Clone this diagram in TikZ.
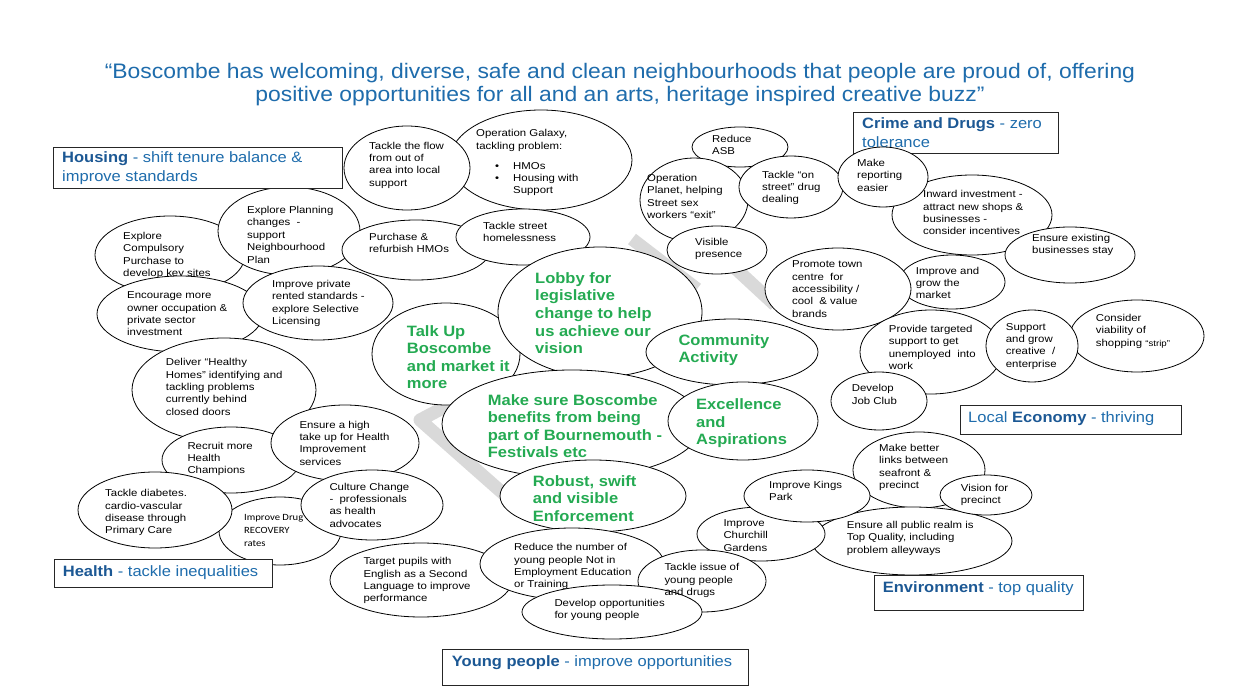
\documentclass[tikz,border=0pt]{standalone}
\usepackage{fontspec}
\setmainfont{Liberation Sans}
\newfontfamily\bodyfnt[FakeStretch=1.14]{Liberation Sans}
\newfontfamily\headfnt[FakeStretch=1.1]{Liberation Sans}
\newfontfamily\titlefnt[FakeStretch=1.09]{Liberation Sans}
\newfontfamily\calfnt[FakeStretch=1.12]{Carlito}
\usetikzlibrary{shapes.geometric}
\definecolor{titleblue}{RGB}{30,108,172}
\definecolor{bdark}{RGB}{28,88,148}
\definecolor{grn}{RGB}{36,170,82}
\definecolor{chev}{RGB}{217,217,217}
\tikzset{
  ell/.style={draw=black, line width=0.8pt, fill=white, ellipse, inner sep=0pt},
  txt/.style={anchor=north west, align=left, inner sep=0pt, font={\bodyfnt\fontsize{10}{12.4}\selectfont}},
  gtxt/.style={anchor=north west, align=left, inner sep=0pt, text=grn, font={\headfnt\fontsize{15}{17.6}\selectfont\bfseries}},
  hbox/.style={draw=black!85, line width=0.9pt, fill=white, anchor=north west, inner sep=0pt},
  htxt/.style={anchor=north west, align=left, inner sep=0pt, text=titleblue, font={\headfnt\fontsize{15}{18.3}\selectfont}},
  chevline/.style={draw=chev, line width=13pt, line join=round}
}
\newcommand\ellnode[5]{\node[ell, minimum width={2*#4}, minimum height={2*#5}] (#1) at (#2,#3) {};}
\newcommand\bub[8]{\ellnode{#1}{#2}{#3}{#4}{#5}\node[txt] (#1t) at (#6,#7) {#8};}
\newcommand\gbub[8]{\ellnode{#1}{#2}{#3}{#4}{#5}\node[gtxt] (#1t) at (#6,#7) {#8};}
\newcommand\hb[1]{{\bfseries\color{bdark}#1}}
\begin{document}
\begin{tikzpicture}[x=1pt,y=-1pt]
\fill[white] (0,0) rectangle (1240,700);
\useasboundingbox (0,0) rectangle (1240,700);

% title
\node[anchor=north, align=center, inner sep=0pt, text=titleblue, font={\titlefnt\fontsize{21}{23.5}\selectfont}] (title) at (620,63)
 {“Boscombe has welcoming, diverse, safe and clean neighbourhoods that people are proud of, offering\\positive opportunities for all and an arts, heritage inspired creative buzz”};

% grey background shape
\coordinate (c1) at (632,239);
\coordinate (c2) at (697,289);
\coordinate (c3) at (735,268);
\coordinate (c4) at (775,305);
\coordinate (c5) at (458,400);
\coordinate (c6) at (420,420);
\coordinate (c7) at (506,496);
\draw[chevline] (c1) -- (c2);
\draw[chevline] (c3) -- (c4);
\draw[chevline] (c5) -- (c6) -- (c7);

% Housing
\bub{galaxy}{541}{160}{91}{50}{476}{129.3}{Operation Galaxy,\\tackling problem:}
\node[txt] (galaxyb) at (495,162) {\makebox[18pt][l]{•}HMOs\\\makebox[18pt][l]{•}Housing with\\\makebox[18pt][l]{}Support};
\bub{flow}{407}{168}{63}{42}{369}{141.7}{Tackle the flow\\from out of\\area into local\\support}
\bub{compul}{170}{255}{75}{39}{123}{232}{Explore\\Compulsory\\Purchase to\\develop key sites}
\bub{plan}{289}{231}{71}{44}{247}{206}{Explore Planning\\changes\ \ -\\support\\Neighbourhood\\Plan}
\bub{purch}{416}{250}{74}{30}{369}{232.7}{Purchase \&\\refurbish HMOs}
\bub{street}{523}{237}{67}{28}{483}{221.7}{Tackle street\\homelessness}
\bub{encour}{180}{314}{83}{38}{127}{291.7}{Encourage more\\owner occupation \&\\private sector\\investment}
\bub{privr}{318}{303}{75}{37}{272}{280}{Improve private\\rented standards -\\explore Selective\\Licensing}
\node[hbox, minimum width=289, minimum height=41.6] (housingbox) at (53.3,146.7) {};
\node[htxt] (housingt) at (62,151.7) {\hb{Housing} - shift tenure balance \&\\improve standards};

% Health
\bub{healthy}{224}{390}{92}{52}{165.7}{358.3}{Deliver “Healthy\\Homes” identifying and\\tackling problems\\currently behind\\closed doors}
\bub{recruit}{231}{460}{69}{33}{187.3}{441.7}{Recruit more\\Health\\Champions}
\bub{takeup}{345}{443}{74}{38}{299.3}{420.7}{Ensure a high\\take up for Health\\Improvement\\services}
\ellnode{drug}{280}{531}{61}{34}
\node[txt, font={\calfnt\fontsize{9.5}{13}\selectfont}] (drugt) at (244,514) {Improve Drug\\RECOVERY\\rates};
\bub{diab}{155}{510}{77}{38}{105}{489.3}{Tackle diabetes.\\cardio-vascular\\disease through\\Primary Care}
\bub{culture}{372}{505}{71}{35}{329.3}{482.7}{Culture Change\\-\ \ professionals\\as health\\advocates}
\node[hbox, minimum width=217.7, minimum height=27.4] (healthbox) at (54,559.3) {};
\node[htxt] (healtht) at (62.7,565) {\hb{Health} - tackle inequalities};

% centre
\gbub{talk}{446}{354}{74}{51}{406.7}{325}{Talk Up\\Boscombe\\and market it\\more}
\gbub{lobby}{600}{312}{102}{65}{535}{272.3}{Lobby for\\legislative\\change to help\\us achieve our\\vision}
\gbub{commun}{732}{352}{86}{33}{678.3}{334}{Community\\Activity}
\gbub{make}{572}{424}{130}{54}{487.7}{394}{Make sure Boscombe\\benefits from being\\part of Bournemouth -\\Festivals etc}
\gbub{excel}{743}{421}{75}{39}{696}{398.7}{Excellence\\and\\Aspirations}
\gbub{robust}{593}{496}{93}{36}{532.7}{475}{Robust, swift\\and visible\\Enforcement}

% Environment
\bub{better}{919}{470}{66}{38}{879}{444}{Make better\\links between\\seafront \&\\precinct}
\bub{realm}{912}{541}{100}{34}{846.7}{521}{Ensure all public realm is\\Top Quality, including\\problem alleyways}
\bub{church}{761}{534}{64}{27}{723.3}{519.3}{Improve\\Churchill\\Gardens}
\bub{kings}{807}{496}{63}{26}{769}{480.7}{Improve Kings\\Park}
\bub{vision}{986}{495}{46}{20}{960.7}{484}{Vision for\\precinct}
\node[hbox, minimum width=209, minimum height=35] (envbox) at (874.3,575) {};
\node[htxt] (envt) at (882.7,581.7) {\hb{Environment} - top quality};

% Young people
\bub{target}{421}{580}{91}{37}{363.3}{557.3}{Target pupils with\\English as a Second\\Language to improve\\performance}
\bub{reduce}{572}{564}{92}{36}{514}{543.3}{Reduce the number of\\young people Not in\\Employment Education\\or Training}
\ellnode{issue}{702}{581}{64}{31}
\ellnode{develop}{612}{612}{90}{27}
\node[txt] (issuet) at (664.3,563.3) {Tackle issue of\\young people\\and drugs};
\node[txt] (developt) at (554.3,599) {Develop opportunities\\for young people};
\node[hbox, minimum width=305.4, minimum height=35.7] (youngbox) at (442.3,649.3) {};
\node[htxt] (youngt) at (451.7,655) {\hb{Young people} - improve opportunities};

% Crime and drugs
\bub{asb}{740}{147}{48}{20}{712}{135}{Reduce\\ASB}
\bub{planet}{694}{200}{54}{42}{647}{174}{Operation\\Planet, helping\\Street sex\\workers “exit”}
\bub{onstreet}{791}{187}{52}{31}{762}{170.7}{Tackle “on\\street” drug\\dealing}
\bub{visible}{717}{250}{50}{24}{695}{237.7}{Visible\\presence}
\node[hbox, minimum width=205, minimum height=41] (crimebox) at (853,112) {};
\node[htxt] (crimet) at (862,117.7) {\hb{Crime and Drugs} - zero\\tolerance};
\bub{inward}{972}{215}{80}{40}{923}{190.3}{Inward investment -\\attract new shops \&\\businesses -\\consider incentives}
\bub{report}{883}{177}{45}{30}{857}{159}{Make\\reporting\\easier}
\bub{exist}{1070}{255}{65}{28}{1032}{234}{Ensure existing\\businesses stay}

% Local economy
\bub{market}{952}{282}{53}{27}{915.7}{266.7}{Improve and\\grow the\\market}
\bub{promote}{838}{289}{73}{41}{792}{260.7}{Promote town\\centre\ \ for\\accessibility /\\cool\ \ \& value\\brands}
\bub{provide}{931}{352}{71}{42}{888.7}{325}{Provide targeted\\support to get\\unemployed\ \ into\\work}
\bub{consider}{1137}{336}{67}{36}{1095.7}{314}{Consider\\viability of\\shopping {\fontsize{8.5}{10}\selectfont “strip”}}
\bub{support}{1032}{346}{46}{36}{1005.7}{323}{Support\\and grow\\creative\ \ /\\enterprise}
\bub{jobclub}{879}{401}{48}{29}{851.7}{384.3}{Develop\\Job Club}
\node[hbox, minimum width=221, minimum height=29] (econbox) at (960,405) {};
\node[htxt] (econt) at (968,411.7) {Local \hb{Economy} - thriving};
\end{tikzpicture}
\end{document}
